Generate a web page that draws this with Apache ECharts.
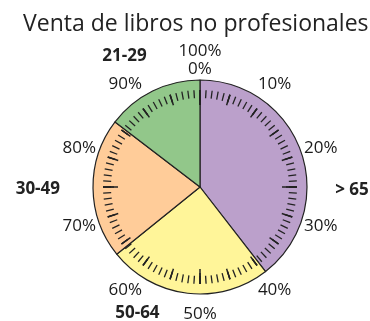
<!DOCTYPE html>
<html>
<head>
<meta charset="utf-8">
<script src="https://cdn.jsdelivr.net/npm/echarts@6/dist/echarts.min.js"></script>
<style>
  html, body { margin: 0; padding: 0; background: #fff; }
  #chart { width: 370px; height: 321px; }
</style>
</head>
<body>
<div id="chart"></div>
<script>
// Age groups and their share of non-professional book sales (%)
const ageGroups = ['> 65', '50-64', '30-49', '21-29'];
const shares = [39.5, 24.7, 21.2, 14.6];
const sliceColors = ['#BBA0CB', '#FFF599', '#FFCC99', '#92C78A'];

// Percentage scale printed around the dial
const scaleMin = 0;
const scaleMax = 100;
const scaleTicks = [0, 10, 20, 30, 40, 50, 60, 70, 80, 90];
const scaleTickLabels = ['100%\n0%', '10%', '20%', '30%', '40%', '50%', '60%', '70%', '80%', '90%'];

const center = [200, 187];
const radius = 107;
const labelRing = 127;          // radius at which the scale labels sit
const fontFamily = '"Open Sans", "Noto Sans", sans-serif';

// per-slice nudges for the age-group captions
const captionOffsets = [[34, 38], [-28, 20], [-33, 1], [-6, -35]];

const chart = echarts.init(document.getElementById('chart'), null, { renderer: 'canvas' });

function dial(extra) {
  return Object.assign({
    type: 'gauge',
    center: center,
    radius: radius,
    startAngle: 90,
    endAngle: -270,
    min: scaleMin,
    max: scaleMax,
    z: 5,
    axisLine: { show: false },
    pointer: { show: false },
    anchor: { show: false },
    progress: { show: false },
    title: { show: false },
    detail: { show: false },
    data: []
  }, extra);
}

const option = {
  backgroundColor: '#ffffff',
  animation: false,
  title: {
    text: 'Venta de libros no profesionales',
    left: 18,
    top: 8,
    textStyle: { fontFamily: fontFamily, fontWeight: 'normal', fontSize: 23, color: '#222' }
  },
  // polar frame sharing the pie's centre, used to place the scale labels
  polar: { center: center, radius: labelRing },
  angleAxis: {
    type: 'value',
    min: scaleMin,
    max: scaleMax,
    startAngle: 90,
    clockwise: true,
    axisLine: { show: false },
    axisTick: { show: false },
    axisLabel: { show: false },
    splitLine: { show: false }
  },
  radiusAxis: {
    type: 'value', min: 0, max: labelRing,
    axisLine: { show: false },
    axisTick: { show: false },
    axisLabel: { show: false },
    splitLine: { show: false }
  },
  series: [
    {
      type: 'pie',
      center: center,
      radius: radius,
      startAngle: 90,
      clockwise: true,
      avoidLabelOverlap: false,
      data: ageGroups.map((name, i) => ({
        name: name,
        value: shares[i],
        itemStyle: { color: sliceColors[i] },
        label: { offset: captionOffsets[i] }
      })),
      itemStyle: { borderColor: '#222', borderWidth: 1.2 },
      label: {
        show: true,
        position: 'outside',
        formatter: '{b}',
        fontFamily: fontFamily,
        fontWeight: 'bold',
        fontSize: 17,
        color: '#222',
        distanceToLabelLine: 0
      },
      labelLine: { show: false, length: 0, length2: 0 },
      emphasis: { disabled: true }
    },
    // fine ticks every 1%, longer every 5%
    dial({
      splitNumber: 20,
      splitLine: { show: true, distance: 0, length: 11, lineStyle: { color: '#222', width: 1.5 } },
      axisTick: { show: true, splitNumber: 5, distance: 0, length: 8, lineStyle: { color: '#222', width: 1.3 } },
      axisLabel: { show: false }
    }),
    // long ticks at the quarters
    dial({
      splitNumber: 4,
      splitLine: { show: true, distance: 0, length: 15, lineStyle: { color: '#222', width: 1.5 } },
      axisTick: { show: false },
      axisLabel: { show: false }
    }),
    // percentage labels around the rim
    {
      type: 'scatter',
      coordinateSystem: 'polar',
      symbol: 'circle',
      symbolSize: 1,
      itemStyle: { color: 'rgba(0,0,0,0)', opacity: 1 },
      silent: true,
      z: 6,
      data: scaleTicks.map((t, i) => ({ value: [labelRing, t], name: scaleTickLabels[i] })),
      label: {
        show: true,
        position: 'inside',
        formatter: '{b}',
        fontFamily: fontFamily,
        fontSize: 17,
        lineHeight: 18,
        color: '#1a1a1a',
        opacity: 1
      },
      emphasis: { disabled: true }
    }
  ]
};

chart.setOption(option);
</script>
</body>
</html>
